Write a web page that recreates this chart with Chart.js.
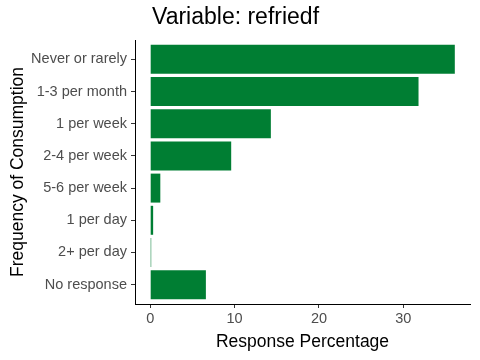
<!DOCTYPE html>
<html>
<head>
<meta charset="utf-8">
<script src="https://cdn.jsdelivr.net/npm/chart.js@4"></script>
<style>
  html, body { margin: 0; padding: 0; background: #fff; }
  #wrap { width: 480px; height: 360px; }
</style>
</head>
<body>
<div id="wrap"><canvas id="chart" width="480" height="360"></canvas></div>
<script>
const categories = ['Never or rarely', '1-3 per month', '1 per week', '2-4 per week',
                    '5-6 per week', '1 per day', '2+ per day', 'No response'];
const percentages = [36.1, 31.8, 14.3, 9.6, 1.2, 0.35, 0.12, 6.6];
const xTicks = [0, 10, 20, 30];

const fontFamily = '"Liberation Sans", Arial, sans-serif';

// title placed at the left of the plot panel, like ggplot
const titlePlugin = {
    id: 'leftTitle',
    afterDraw(chart) {
        const ctx = chart.ctx;
        ctx.save();
        ctx.fillStyle = '#000';
        ctx.font = '23px ' + fontFamily;
        ctx.textBaseline = 'middle';
        ctx.textAlign = 'left';
        ctx.fillText('Variable: refriedf', chart.chartArea.left + 17, 18);
        ctx.restore();
    }
};

// categories sit at positions 1..n on a numeric axis so the end padding matches ggplot (0.6)
const points = percentages.map((v, i) => ({ x: v, y: i + 1 }));

const ctx = document.getElementById('chart').getContext('2d');
new Chart(ctx, {
    type: 'bar',
    data: {
        datasets: [{
            data: points,
            backgroundColor: '#007E33',
            categoryPercentage: 0.9,
            barPercentage: 1
        }]
    },
    options: {
        indexAxis: 'y',
        responsive: false,
        animation: false,
        layout: { padding: { top: 40, right: 10, left: 0, bottom: 0 } },
        plugins: {
            legend: { display: false },
            tooltip: { enabled: false },
            title: { display: false }
        },
        scales: {
            x: {
                type: 'linear',
                min: -1.8,
                max: 37.9,
                afterBuildTicks: (scale) => { scale.ticks = xTicks.map(v => ({ value: v })); },
                afterFit: (scale) => { scale.height = 56; },
                ticks: { color: '#4d4d4d', font: { size: 14.5, family: fontFamily }, padding: 2 },
                grid: { drawOnChartArea: false, drawTicks: true, tickLength: 4, color: '#333' },
                border: { display: true, color: '#000', width: 1 },
                title: {
                    display: true,
                    text: 'Response Percentage',
                    color: '#000',
                    font: { size: 17.5, family: fontFamily },
                    padding: { top: 0, bottom: 7 }
                }
            },
            y: {
                type: 'linear',
                reverse: true,
                offset: false,
                min: 0.4,
                max: categories.length + 0.6,
                afterBuildTicks: (scale) => { scale.ticks = categories.map((c, i) => ({ value: i + 1 })); },
                afterFit: (scale) => { scale.width = 135; },
                ticks: {
                    color: '#4d4d4d',
                    font: { size: 14.5, family: fontFamily },
                    padding: 4,
                    callback: (v) => categories[v - 1]
                },
                grid: { offset: false, drawOnChartArea: false, drawTicks: true, tickLength: 4, color: '#333' },
                border: { display: true, color: '#000', width: 1 },
                title: {
                    display: true,
                    text: 'Frequency of Consumption',
                    color: '#000',
                    font: { size: 17.5, family: fontFamily },
                    padding: { top: 8, bottom: 0 }
                }
            }
        }
    },
    plugins: [titlePlugin]
});
</script>
</body>
</html>
